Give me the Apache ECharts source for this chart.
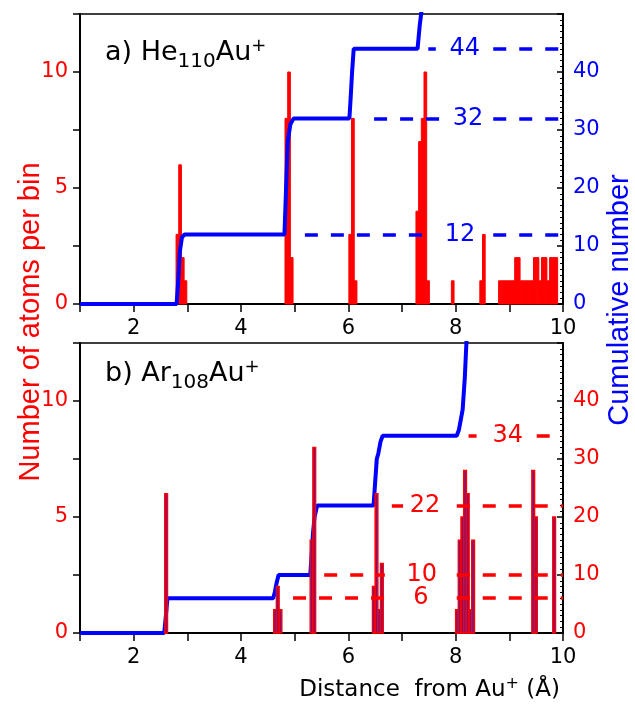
<!DOCTYPE html>
<html>
<head>
<meta charset="utf-8">
<script src="https://cdn.jsdelivr.net/npm/echarts@6/dist/echarts.min.js"></script>
<style>
  html, body { margin: 0; padding: 0; background: #fff; }
  #main { width: 635px; height: 704px; }
</style>
</head>
<body>
<div id="main"></div>
<script type="text/javascript">
    // histogram bin width (Angstrom)
    var binW = 0.05;

    // panel a) He110Au+ : bin start and atoms per bin
    var barsA_x = [2.79, 2.84, 2.89, 2.94, 4.82, 4.87, 4.92, 6.01, 6.06, 6.11,
                   7.26, 7.31, 7.36, 7.41, 7.46, 7.92, 8.45, 8.50,
                   8.80, 8.85, 8.90, 8.95, 9.00, 9.05, 9.10, 9.15, 9.20, 9.25, 9.30,
                   9.35, 9.40, 9.45, 9.50, 9.55, 9.60, 9.65, 9.70, 9.75, 9.80, 9.85];
    var barsA_h = [3, 6, 2, 1, 8, 10, 2, 3, 8, 1,
                   4, 7, 8, 10, 1, 1, 1, 3,
                   1, 1, 1, 1, 1, 1, 2, 2, 1, 1, 1,
                   1, 1, 2, 2, 1, 2, 2, 1, 2, 2, 2];
    // cumulative number, panel a
    var cumA_x = [1, 2.80, 2.83, 2.86, 2.90, 2.95, 4.81, 4.84, 4.87, 4.92, 4.98,
                  6.02, 6.04, 6.07, 6.10, 7.29, 7.33, 7.37, 7.40];
    var cumA_n = [0, 0, 4, 9, 11.5, 12, 12, 20, 28, 31, 32,
                  32, 35, 40, 44, 44, 48, 51, 56];

    // panel b) Ar108Au+
    var barsB_x = [2.58, 4.61, 4.66, 4.71, 5.29, 5.34, 6.45, 6.50, 6.55, 6.60,
                   8.00, 8.05, 8.10, 8.15, 8.20, 8.25, 8.30, 9.42, 9.47, 9.81];
    var barsB_h = [6, 1, 2, 1, 4, 8, 2, 6, 1, 3,
                   1, 4, 5, 7, 6, 1, 4, 7, 5, 5];
    var cumB_x = [1, 2.57, 2.63, 4.60, 4.63, 4.66, 4.70, 5.29, 5.32, 5.34, 5.37, 5.42,
                  6.47, 6.50, 6.53, 6.56, 6.60, 6.64, 8.02, 8.06, 8.10, 8.13, 8.17, 8.20, 8.21];
    var cumB_n = [0, 0, 6, 6, 7, 8.5, 10, 10, 14, 17, 20, 22,
                  22, 26, 30, 31, 33, 34, 34, 35, 37, 38.5, 44, 50, 52];

    // dashed guide levels: level, left piece, right piece start, label x
    var levelsA = [12, 32, 44];
    var dashA_l0 = [5.19, 6.48, 7.49];
    var dashA_l1 = [7.46, 7.71, 7.63];
    var dashA_r0 = [8.70, 8.70, 8.70];
    var labelA_x = [8.08, 8.23, 8.17];

    var levelsB = [6, 10, 22, 34];
    var dashB_l0 = [4.97, 5.55, 6.81, 8.24];
    var dashB_l1 = [6.68, 6.68, 7.02, 8.39];
    var dashB_r0 = [8.02, 8.02, 8.02, 9.51];
    var labelB_x = [7.35, 7.37, 7.43, 8.97];

    var FONT = 'DejaVu Sans';
    var RED = '#ff0000', BLUE = '#0000ff';

    function zip(a, b) {
        return a.map(function (v, i) { return [v, b[i]]; });
    }
    function segs(levels, l0, l1, r0) {
        var out = [];
        levels.forEach(function (y, i) {
            out.push({coords: [[l0[i], y], [l1[i], y]]});
            out.push({coords: [[r0[i], y], [10, y]]});
        });
        return out;
    }
    function barItem(fill, stroke, lw) {
        return function (params, api) {
            var x0 = api.value(0), h = api.value(1);
            var p0 = api.coord([x0, h]);
            var p1 = api.coord([x0 + binW, 0]);
            return {
                type: 'rect',
                shape: {x: p0[0], y: p0[1], width: p1[0] - p0[0], height: p1[1] - p0[1]},
                style: {fill: fill, stroke: stroke, lineWidth: lw}
            };
        };
    }
    function xAxisFor(g) {
        return {
            gridIndex: g, type: 'value', min: 1, max: 10, interval: 1,
            axisLine: {show: true, lineStyle: {color: '#000', width: 2}},
            axisTick: {show: true, length: 8, lineStyle: {color: '#000', width: 1.5}},
            axisLabel: {
                color: '#000', fontSize: 21, fontFamily: FONT, margin: 14,
                formatter: function (v) { return v % 2 === 0 ? String(v) : ''; }
            },
            splitLine: {show: false}
        };
    }
    function leftAxisFor(g) {
        return {
            gridIndex: g, type: 'value', position: 'left', min: 0, max: 12.5, interval: 2.5,
            axisLine: {show: true, lineStyle: {color: '#000', width: 2}},
            axisTick: {show: true, length: 7, lineStyle: {color: '#000', width: 1.5}},
            axisLabel: {
                color: RED, fontSize: 21, fontFamily: FONT, margin: 12,
                formatter: function (v) { return v % 5 === 0 ? String(v) : ''; }
            },
            splitLine: {show: false}
        };
    }
    function rightAxisFor(g, col) {
        return {
            gridIndex: g, type: 'value', position: 'right', min: 0, max: 50, interval: 10,
            axisLine: {show: true, lineStyle: {color: '#000', width: 2}},
            axisTick: {show: true, inside: true, length: 6, lineStyle: {color: '#000', width: 1.5}},
            minorTick: {show: true, splitNumber: 10, length: 3, lineStyle: {color: '#000', width: 1}},
            axisLabel: {
                color: col, fontSize: 21, fontFamily: FONT, margin: 10,
                formatter: function (v) { return v < 50 ? String(v) : ''; }
            },
            splitLine: {show: false}, minorSplitLine: {show: false}
        };
    }
    function panelRich() {
        return {
            m: {fontSize: 27, fontFamily: FONT, fontWeight: 'normal', color: '#000'},
            s: {fontSize: 20, fontFamily: FONT, fontWeight: 'normal', color: '#000', padding: [18, 0, 0, 0]},
            p: {fontSize: 18, fontFamily: FONT, fontWeight: 'normal', color: '#000', padding: [0, 0, 14, 0]}
        };
    }
    function levelLabel(col) {
        return {
            show: true, position: 'inside', color: col, fontSize: 24, fontFamily: FONT,
            fontWeight: 'normal', textBorderWidth: 0, textShadowBlur: 0,
            formatter: function (p) { return String(p.value[1]); }
        };
    }

    var myChart = echarts.init(document.getElementById('main'), null, {renderer: 'canvas'});

    var option = {
        backgroundColor: '#fff',
        animation: false,
        grid: [
            {left: 80, right: 72, top: 14, height: 290, show: true, borderColor: '#000', borderWidth: 1.5},
            {left: 80, right: 72, top: 343, height: 290, show: true, borderColor: '#000', borderWidth: 1.5}
        ],
        xAxis: [xAxisFor(0), xAxisFor(1)],
        yAxis: [leftAxisFor(0), rightAxisFor(0, BLUE), leftAxisFor(1), rightAxisFor(1, RED)],
        title: [
            {
                text: '{m|a) He}{s|110}{m|Au}{p|+}', left: 100, top: 29,
                textStyle: {fontWeight: 'normal', rich: panelRich()}
            },
            {
                text: '{m|b) Ar}{s|108}{m|Au}{p|+}', left: 100, top: 350,
                textStyle: {fontWeight: 'normal', rich: panelRich()}
            },
            {
                text: '{m|Distance  from Au}{p|+}{m| (Å)}', right: 70, top: 671,
                textStyle: {fontWeight: 'normal', rich: {
                    m: {fontSize: 23, fontFamily: FONT, fontWeight: 'normal', color: '#000'},
                    p: {fontSize: 16, fontFamily: FONT, fontWeight: 'normal', color: '#000', padding: [0, 0, 12, 0]}
                }}
            }
        ],
        graphic: [
            {
                type: 'text', x: 31, y: 322, rotation: Math.PI / 2,
                style: {text: 'Number of atoms per bin', fill: RED, font: '29px "Liberation Sans"',
                        align: 'center', verticalAlign: 'middle'}
            },
            {
                type: 'text', x: 620, y: 300, rotation: Math.PI / 2,
                style: {text: 'Cumulative number', fill: BLUE, font: '29px "Liberation Sans"',
                        align: 'center', verticalAlign: 'middle'}
            }
        ],
        series: [
            // panel a
            {
                type: 'custom', xAxisIndex: 0, yAxisIndex: 0, z: 2,
                renderItem: barItem(RED, RED, 1), data: zip(barsA_x, barsA_h)
            },
            {
                type: 'line', xAxisIndex: 0, yAxisIndex: 1, z: 3, showSymbol: false, symbol: 'none',
                clip: true, lineStyle: {color: BLUE, width: 4}, data: zip(cumA_x, cumA_n)
            },
            {
                type: 'lines', coordinateSystem: 'cartesian2d', xAxisIndex: 0, yAxisIndex: 1, z: 4,
                lineStyle: {color: BLUE, width: 3.5, type: [13, 13], opacity: 1},
                data: segs(levelsA, dashA_l0, dashA_l1, dashA_r0)
            },
            {
                type: 'scatter', xAxisIndex: 0, yAxisIndex: 1, z: 5, symbolSize: 0,
                itemStyle: {color: BLUE, opacity: 1},
                label: levelLabel(BLUE), data: zip(labelA_x, levelsA)
            },
            // panel b
            {
                type: 'line', xAxisIndex: 1, yAxisIndex: 3, z: 2, showSymbol: false, symbol: 'none',
                clip: true, lineStyle: {color: BLUE, width: 4}, data: zip(cumB_x, cumB_n)
            },
            {
                type: 'custom', xAxisIndex: 1, yAxisIndex: 2, z: 3,
                renderItem: barItem('#5a1a9a', RED, 1.5), data: zip(barsB_x, barsB_h)
            },
            {
                type: 'lines', coordinateSystem: 'cartesian2d', xAxisIndex: 1, yAxisIndex: 3, z: 4,
                lineStyle: {color: RED, width: 3.5, type: [13, 13], opacity: 1},
                data: segs(levelsB, dashB_l0, dashB_l1, dashB_r0)
            },
            {
                type: 'scatter', xAxisIndex: 1, yAxisIndex: 3, z: 5, symbolSize: 0,
                itemStyle: {color: RED, opacity: 1},
                label: levelLabel(RED), data: zip(labelB_x, levelsB)
            }
        ]
    };

    myChart.setOption(option);
</script>
</body>
</html>
